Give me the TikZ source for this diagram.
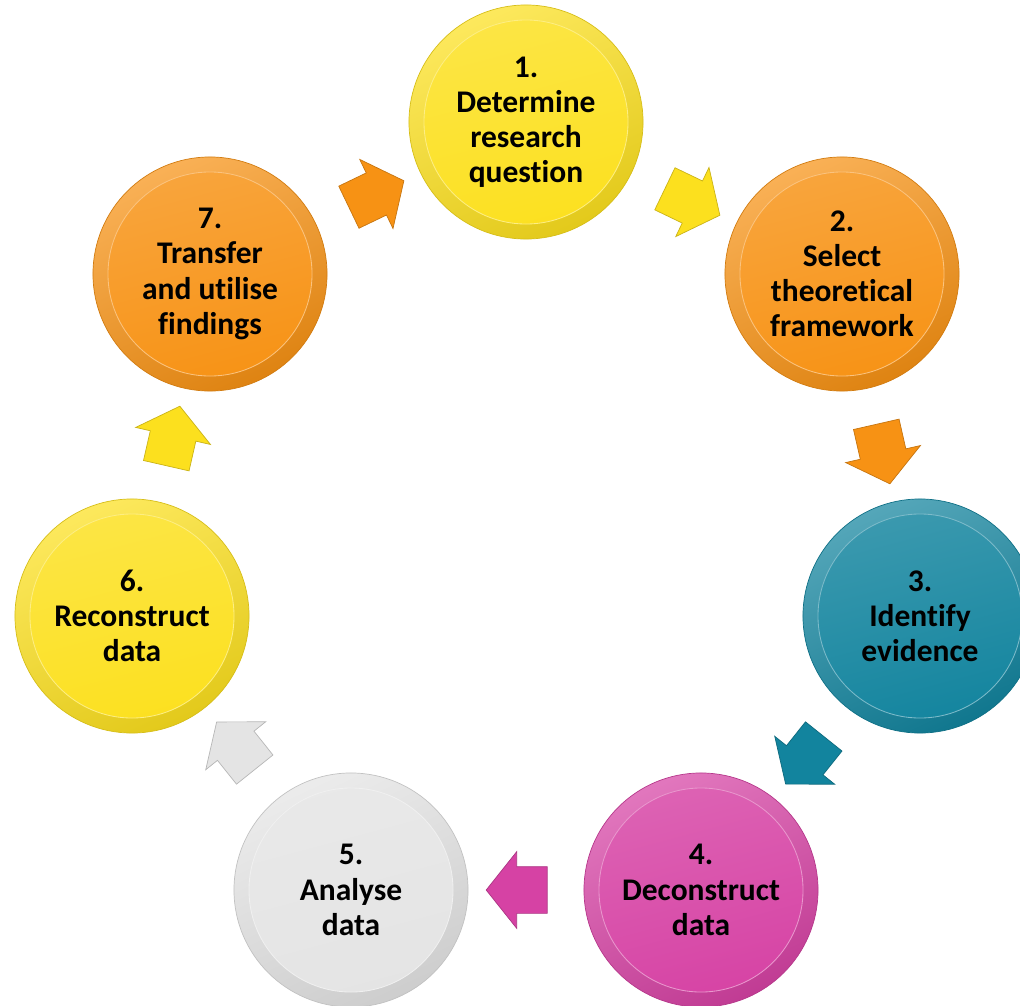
\documentclass[tikz,border=0pt]{standalone}
\usepackage{fontspec}
\setmainfont{Carlito}[Ligatures=NoCommon]
\usetikzlibrary{shapes.arrows}

\definecolor{stageyellow}{RGB}{252,224,30}
\definecolor{stageorange}{RGB}{247,146,20}
\definecolor{stageteal}{RGB}{18,132,158}
\definecolor{stagepink}{RGB}{214,66,164}
\definecolor{stagegrey}{RGB}{228,228,228}

\tikzset{
  stage/.style={circle, minimum size=5.85cm, inner sep=0pt, align=center,
    font=\bfseries\fontsize{22.4}{25}\selectfont, text=black,
    draw=#1!85!black, line width=0.5pt,
    top color=#1!72!white, bottom color=#1!90!black, shading angle=25,
    path picture={
      \draw[#1!55!white, line width=0.6pt, top color=#1!82!white, bottom color=#1, shading angle=15]
        (path picture bounding box.center) circle (2.55cm);
    }},
  flow/.style={single arrow, sloped, allow upside down,
    minimum height=1.525cm, inner xsep=0pt, inner ysep=0.575cm,
    single arrow head extend=0.375cm, single arrow tip angle=103,
    fill=#1, draw=#1!80!black, line width=0.5pt}
}

\begin{document}
\begin{tikzpicture}[x=0.025cm, y=0.025cm]
\useasboundingbox (0,0) rectangle (1020,-1006);

\node[stage=stageyellow] (s1) at (526,-122) {1.\\Determine\\research\\question};
\node[stage=stageorange] (s2) at (842,-274) {2.\\Select\\theoretical\\framework};
\node[stage=stageteal] (s3) at (920,-616) {3.\\Identify\\evidence};
\node[stage=stagepink] (s4) at (701,-890) {4.\\Deconstruct\\data};
\node[stage=stagegrey] (s5) at (351,-890) {5.\\Analyse\\data};
\node[stage=stageyellow] (s6) at (132,-616) {6.\\Reconstruct\\data};
\node[stage=stageorange] (s7) at (210,-274) {7.\\Transfer\\and utilise\\findings};

\path (s1) -- node[flow=stageyellow] (a12) {} (s2);
\path (s2) -- node[flow=stageorange] (a23) {} (s3);
\path (s3) -- node[flow=stageteal] (a34) {} (s4);
\path (s4) -- node[flow=stagepink] (a45) {} (s5);
\path (s5) -- node[flow=stagegrey] (a56) {} (s6);
\path (s6) -- node[flow=stageyellow] (a67) {} (s7);
\path (s7) -- node[flow=stageorange] (a71) {} (s1);

\end{tikzpicture}
\end{document}
